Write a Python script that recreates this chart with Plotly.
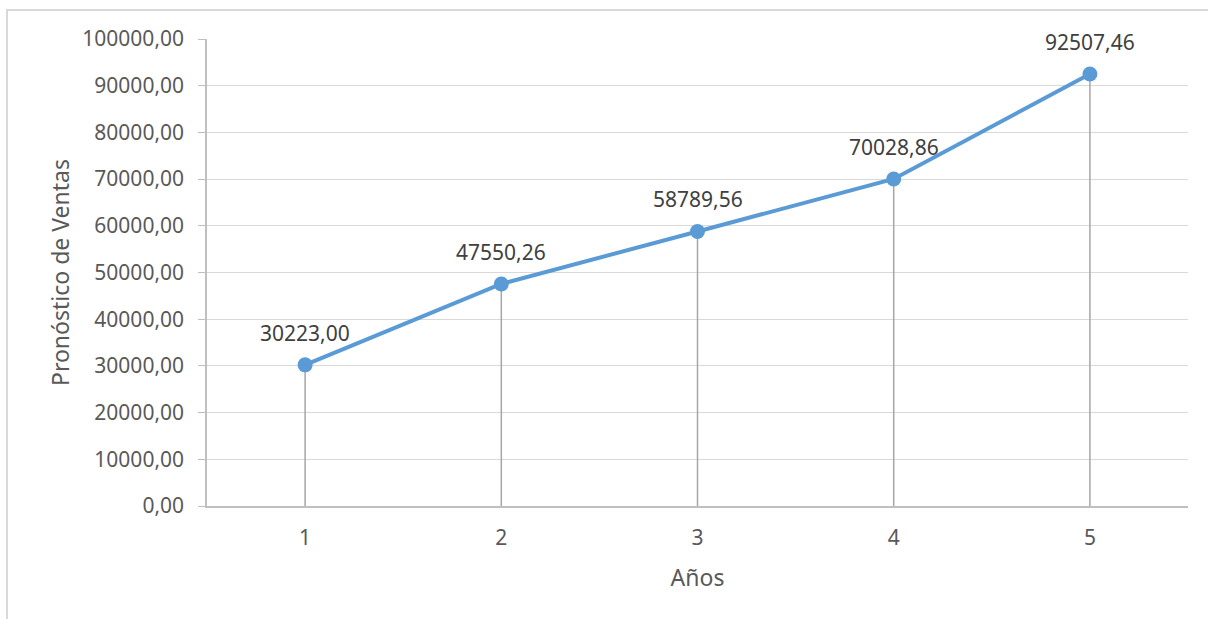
import plotly.graph_objects as go

# Forecast data
anios = [1, 2, 3, 4, 5]
ventas = [30223.00, 47550.26, 58789.56, 70028.86, 92507.46]
y_ticks = [0, 10000, 20000, 30000, 40000, 50000, 60000, 70000, 80000, 90000, 100000]

FONT = "Noto Sans"
LINE_BLUE = "#5b9bd5"

fig = go.Figure()

# Drop lines from each point down to the category axis
drop_x, drop_y = [], []
for a, v in zip(anios, ventas):
    drop_x += [a, a, None]
    drop_y += [0, v, None]
fig.add_trace(go.Scatter(
    x=drop_x, y=drop_y, mode="lines",
    line=dict(color="#a6a6a6", width=1.5),
    hoverinfo="skip", showlegend=False,
))

# Main forecast line with markers
fig.add_trace(go.Scatter(
    x=anios, y=ventas, mode="lines+markers",
    line=dict(color=LINE_BLUE, width=4),
    marker=dict(color=LINE_BLUE, size=15),
    showlegend=False,
))

# Value labels above each point
for a, v in zip(anios, ventas):
    fig.add_annotation(
        x=a, y=v, xref="x", yref="y",
        text=f"{v:.2f}".replace(".", ","),
        showarrow=False, yshift=32,
        font=dict(family=FONT, size=21, color="#404040"),
    )

# Outer chart border
fig.add_shape(
    type="rect", xref="paper", yref="paper",
    x0=-0.2039, x1=1.03, y0=-0.27, y1=1.0621,
    line=dict(color="#d9d9d9", width=2), fillcolor="rgba(0,0,0,0)",
    layer="below",
)

fig.update_layout(
    width=1208, height=619,
    margin=dict(l=207, r=20, t=39, b=113),
    paper_bgcolor="white", plot_bgcolor="white",
    separators=",.",
    font=dict(family=FONT, size=21, color="#595959"),
    xaxis=dict(
        range=[0.5, 5.5],
        tickmode="array", tickvals=anios, ticktext=[str(a) for a in anios],
        showgrid=False, zeroline=False,
        showline=True, linecolor="#bfbfbf", linewidth=1.5,
        ticks="outside", ticklen=12, tickcolor="rgba(0,0,0,0)",
        title=dict(text="Años", standoff=20, font=dict(size=23)),
    ),
    yaxis=dict(
        range=[0, 100000],
        tickmode="array", tickvals=y_ticks, tickformat=".2f",
        showgrid=True, gridcolor="#d9d9d9", gridwidth=1.3,
        zeroline=False,
        showline=True, linecolor="#bfbfbf", linewidth=1.5,
        ticks="outside", ticklen=7, tickcolor="#bfbfbf",
        ticklabelstandoff=10,
        title=dict(text="Pronóstico de Ventas", standoff=6, font=dict(size=23)),
    ),
)

fig.write_html("out.html")
